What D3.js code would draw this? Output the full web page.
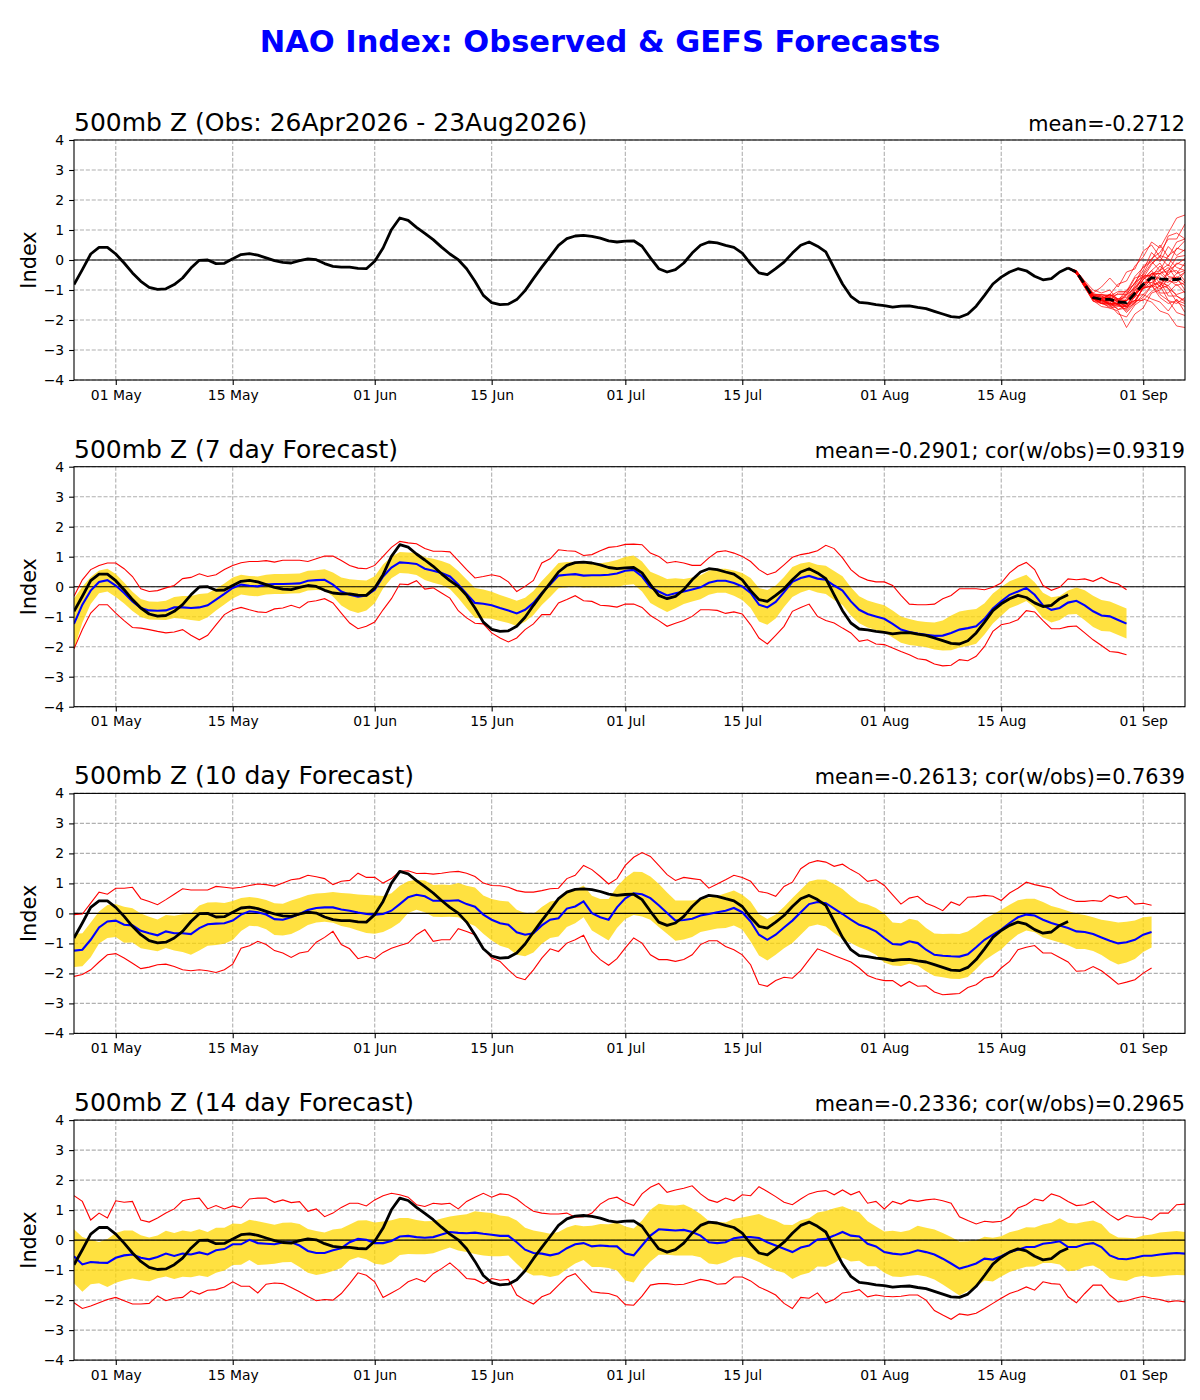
<!DOCTYPE html>
<html>
<head>
<meta charset="utf-8">
<script src="https://cdn.jsdelivr.net/npm/d3@7"></script>
<style>
  body { margin: 0; background: #fff; }
  text { font-family: "DejaVu Sans", sans-serif; }
</style>
</head>
<body>
<div id="chart"></div>
<script>
// ---- data (daily values, first day = seriesStart) ----
const seriesStart = "2026-04-26";
const ensStart = "2026-08-23";
const xDomain = ["2026-04-26", "2026-09-06"];
const xTickDays = ["2026-05-01", "2026-05-15", "2026-06-01", "2026-06-15", "2026-07-01",
                   "2026-07-15", "2026-08-01", "2026-08-15", "2026-09-01"];
const yTicks = [-4, -3, -2, -1, 0, 1, 2, 3, 4];

const mainTitle = "NAO Index: Observed & GEFS Forecasts";
const panelTitles = ["500mb Z (Obs: 26Apr2026 - 23Aug2026)", "500mb Z (7 day Forecast)",
                     "500mb Z (10 day Forecast)", "500mb Z (14 day Forecast)"];
const panelStats = ["mean=-0.2712", "mean=-0.2901; cor(w/obs)=0.9319",
                    "mean=-0.2613; cor(w/obs)=0.7639", "mean=-0.2336; cor(w/obs)=0.2965"];

// observed NAO, 26 Apr - 23 Aug
const obs = [
  -0.82, -0.32, 0.2, 0.42, 0.42, 0.2, -0.1, -0.43, -0.71, -0.91,
  -0.98, -0.96, -0.82, -0.6, -0.27, -0.01, 0.0, -0.12, -0.11, 0.04,
  0.18, 0.21, 0.16, 0.07, -0.02, -0.08, -0.1, -0.02, 0.04, 0.01,
  -0.12, -0.21, -0.24, -0.24, -0.28, -0.29, -0.04, 0.4, 1.01, 1.4,
  1.32, 1.09, 0.89, 0.68, 0.43, 0.2, 0.01, -0.29, -0.71, -1.18,
  -1.42, -1.49, -1.47, -1.32, -1.02, -0.62, -0.24, 0.12, 0.49, 0.71,
  0.8, 0.82, 0.79, 0.73, 0.64, 0.6, 0.63, 0.64, 0.46, 0.07,
  -0.29, -0.4, -0.32, -0.1, 0.23, 0.49, 0.6, 0.57, 0.49, 0.42,
  0.23, -0.13, -0.43, -0.49, -0.29, -0.07, 0.23, 0.49, 0.6, 0.46,
  0.27, -0.27, -0.8, -1.21, -1.41, -1.44, -1.49, -1.52, -1.57, -1.54,
  -1.53, -1.58, -1.62, -1.71, -1.8, -1.89, -1.91, -1.8, -1.54, -1.18,
  -0.8, -0.57, -0.4, -0.29, -0.36, -0.54, -0.66, -0.62, -0.4, -0.27
];

// GEFS ensemble from 23 Aug (mean + members)
const ensMean = [-0.27, -0.4, -0.81, -1.25, -1.31, -1.31, -1.4, -1.42, -1.11, -0.81, -0.59, -0.63, -0.65, -0.65, -0.59];
const ensMembers = [
  [-0.27, -0.45, -0.9, -1.3, -1.35, -1.15, -0.8, -0.7, -0.2, 0.1, 0.6, 0.4, 0.9, 1.4, 1.5],
  [-0.27, -0.4, -0.85, -1.2, -1.3, -1.5, -1.8, -1.9, -1.5, -1.3, -1.4, -1.7, -1.8, -2.2, -2.25],
  [-0.27, -0.35, -0.75, -1.1, -0.9, -0.6, -0.9, -0.4, -0.3, 0.3, 0.5, 0.1, 0.8, 0.9, 0.7],
  [-0.27, -0.42, -0.8, -1.3, -1.45, -1.4, -1.65, -1.6, -1.45, -0.9, -0.9, -0.7, -1.2, -1.2, -1.4],
  [-0.27, -0.38, -0.78, -1.2, -1.2, -1.35, -1.1, -1.1, -0.6, -0.5, -0.1, 0.1, -0.2, 0.4, 0.3],
  [-0.27, -0.44, -0.9, -1.35, -1.55, -1.6, -1.7, -2.25, -1.8, -1.6, -1.1, -1.0, -0.6, -0.6, -0.4],
  [-0.27, -0.36, -0.7, -1.0, -1.1, -1.0, -1.35, -1.0, -0.8, -0.2, 0.0, 0.5, 0.1, 0.6, 0.7],
  [-0.27, -0.43, -0.86, -1.28, -1.45, -1.5, -1.5, -1.65, -1.2, -1.15, -1.3, -1.4, -1.7, -1.3, -1.75],
  [-0.27, -0.39, -0.82, -1.22, -1.3, -1.15, -1.3, -1.25, -1.05, -0.5, -0.55, -0.2, -0.5, -0.1, -0.2],
  [-0.27, -0.41, -0.84, -1.3, -1.4, -1.6, -1.55, -1.55, -1.1, -0.95, -0.6, -1.1, -1.1, -0.8, -1.1],
  [-0.27, -0.37, -0.76, -1.15, -1.25, -1.25, -1.4, -1.15, -0.75, -0.55, -0.5, -0.45, -0.7, -0.75, -0.4],
  [-0.27, -0.46, -0.92, -1.36, -1.4, -1.45, -1.45, -1.7, -1.4, -1.25, -0.85, -0.75, -0.85, -1.2, -1.35],
  [-0.27, -0.4, -0.8, -1.25, -1.35, -1.35, -1.5, -1.3, -0.85, -0.45, 0.05, 0.25, 0.7, 0.7, 1.2],
  [-0.27, -0.42, -0.83, -1.27, -1.35, -1.4, -1.35, -1.6, -1.2, -0.85, -0.55, -0.9, -0.4, -0.35, -0.7],
  [-0.27, -0.38, -0.79, -1.18, -1.25, -1.2, -1.35, -1.35, -1.15, -0.65, -0.35, -0.1, -0.55, -0.6, -1.0],
  [-0.27, -0.44, -0.88, -1.32, -1.3, -1.5, -1.45, -1.35, -0.95, -0.65, -0.35, -0.8, -0.95, -1.4, -1.55],
  [-0.27, -0.4, -0.81, -1.24, -1.3, -1.25, -1.4, -1.45, -1.35, -0.95, -0.85, -0.45, -0.35, 0.1, 0.15],
  [-0.27, -0.43, -0.85, -1.3, -1.35, -1.45, -1.45, -1.5, -1.1, -0.95, -0.85, -1.15, -1.35, -1.75, -1.85],
  [-0.27, -0.39, -0.77, -1.17, -1.15, -1.2, -1.05, -1.05, -0.55, -0.25, -0.05, -0.35, -0.15, -0.45, -0.1],
  [-0.27, -0.41, -0.82, -1.26, -1.35, -1.3, -1.5, -1.55, -1.4, -0.9, -0.65, -0.35, -0.65, -0.85, -0.75],
  [-0.27, -0.45, -0.9, -1.38, -1.45, -1.55, -1.5, -1.5, -1.15, -0.9, -0.45, -0.65, -0.75, -0.45, -0.35],
  [-0.27, -0.36, -0.74, -1.12, -1.2, -1.15, -1.3, -1.15, -0.95, -0.55, -0.85, -0.95, -0.85, -0.55, -0.75],
  [-0.27, -0.42, -0.84, -1.28, -1.3, -1.45, -1.4, -1.55, -1.35, -1.35, -1.05, -0.85, -0.35, -0.15, 0.05],
  [-0.27, -0.4, -0.8, -1.22, -1.3, -1.15, -1.35, -1.2, -0.9, -0.6, -0.15, 0.15, 0.05, -0.25, -0.35],
  [-0.27, -0.43, -0.86, -1.3, -1.45, -1.45, -1.65, -1.5, -1.35, -0.95, -0.75, -0.85, -1.35, -1.45, -1.25],
  [-0.27, -0.38, -0.78, -1.2, -1.2, -1.35, -1.3, -1.35, -1.0, -0.8, -0.45, -0.35, 0.15, 0.35, 0.65],
  [-0.27, -0.41, -0.83, -1.25, -1.35, -1.25, -1.4, -1.35, -1.25, -0.75, -0.75, -0.55, -0.95, -1.15, -1.05],
  [-0.27, -0.44, -0.87, -1.3, -1.35, -1.5, -1.45, -1.75, -1.45, -1.15, -0.85, -1.25, -1.45, -1.35, -1.45],
  [-0.27, -0.37, -0.76, -1.14, -1.15, -1.2, -1.15, -1.15, -0.75, -0.35, 0.25, -0.05, 0.45, 0.15, 0.35],
  [-0.27, -0.42, -0.85, -1.29, -1.4, -1.35, -1.5, -1.35, -1.15, -0.65, -0.45, -0.45, -0.25, -0.65, -0.85]
];

// 7 day forecast: ensemble mean, spread (half width of band), max, min
const p7Mean = [
  -1.24, -0.6, -0.13, 0.16, 0.22, 0.04, -0.21, -0.49, -0.71, -0.79,
  -0.8, -0.79, -0.69, -0.69, -0.71, -0.69, -0.62, -0.43, -0.24, -0.04,
  0.07, 0.03, 0.01, 0.07, 0.09, 0.09, 0.1, 0.11, 0.2, 0.22,
  0.23, 0.07, -0.16, -0.27, -0.33, -0.29, -0.1, 0.34, 0.64, 0.81,
  0.79, 0.76, 0.6, 0.53, 0.46, 0.34, 0.07, -0.24, -0.54, -0.57,
  -0.62, -0.71, -0.79, -0.89, -0.77, -0.54, -0.21, 0.07, 0.37, 0.4,
  0.42, 0.37, 0.38, 0.38, 0.4, 0.44, 0.53, 0.56, 0.34, -0.02,
  -0.16, -0.29, -0.22, -0.16, -0.09, -0.02, 0.13, 0.2, 0.2, 0.12,
  0.01, -0.21, -0.6, -0.69, -0.51, -0.18, 0.16, 0.29, 0.36, 0.27,
  0.23, 0.04, -0.13, -0.49, -0.77, -0.91, -0.99, -1.07, -1.24, -1.43,
  -1.51, -1.56, -1.6, -1.64, -1.63, -1.54, -1.43, -1.38, -1.32, -1.07,
  -0.73, -0.49, -0.27, -0.16, -0.04, -0.27, -0.62, -0.77, -0.71, -0.53,
  -0.47, -0.62, -0.82, -0.96, -0.99, -1.11, -1.23
];
const p7Spread = [
  0.85, 0.6, 0.45, 0.38, 0.38, 0.38, 0.35, 0.32, 0.3, 0.3,
  0.3, 0.32, 0.35, 0.38, 0.4, 0.45, 0.4, 0.36, 0.35, 0.35,
  0.33, 0.33, 0.33, 0.33, 0.33, 0.33, 0.33, 0.33, 0.33, 0.33,
  0.35, 0.4, 0.47, 0.52, 0.55, 0.5, 0.45, 0.4, 0.36, 0.35,
  0.35, 0.37, 0.38, 0.4, 0.4, 0.42, 0.45, 0.48, 0.5, 0.48,
  0.45, 0.43, 0.42, 0.42, 0.4, 0.4, 0.4, 0.41, 0.42, 0.42,
  0.41, 0.4, 0.4, 0.4, 0.42, 0.45, 0.47, 0.48, 0.5, 0.52,
  0.54, 0.55, 0.5, 0.42, 0.4, 0.4, 0.4, 0.4, 0.4, 0.42,
  0.45, 0.5, 0.56, 0.58, 0.55, 0.5, 0.5, 0.48, 0.46, 0.46,
  0.47, 0.48, 0.48, 0.47, 0.45, 0.45, 0.45, 0.45, 0.45, 0.44,
  0.43, 0.42, 0.42, 0.45, 0.5, 0.58, 0.6, 0.6, 0.58, 0.52,
  0.5, 0.48, 0.45, 0.45, 0.44, 0.42, 0.42, 0.42, 0.4, 0.4,
  0.44, 0.5, 0.52, 0.52, 0.5, 0.5, 0.5
];
const p7Max = [
  -0.32, 0.23, 0.57, 0.71, 0.79, 0.79, 0.6, 0.34, -0.07, -0.16,
  -0.13, -0.04, 0.04, 0.27, 0.31, 0.43, 0.34, 0.4, 0.57, 0.71,
  0.8, 0.84, 0.84, 0.87, 0.82, 0.88, 0.88, 0.88, 0.84, 0.93,
  1.02, 1.02, 0.87, 0.71, 0.62, 0.6, 0.71, 1.01, 1.31, 1.51,
  1.46, 1.43, 1.27, 1.18, 1.18, 1.16, 0.87, 0.57, 0.29, 0.34,
  0.4, 0.34, 0.16, -0.16, 0.01, 0.21, 0.79, 0.93, 1.23, 1.2,
  1.18, 1.04, 1.07, 1.2, 1.31, 1.34, 1.41, 1.42, 1.4, 1.12,
  1.01, 0.79, 0.84, 0.79, 0.71, 0.71, 0.96, 1.16, 1.2, 1.12,
  1.01, 0.84, 0.57, 0.4, 0.49, 0.73, 0.98, 1.07, 1.12, 1.2,
  1.38, 1.27, 0.96, 0.57, 0.34, 0.22, 0.16, 0.16, 0.04, -0.29,
  -0.58, -0.6, -0.6, -0.58, -0.4, -0.29, -0.07, -0.07, -0.07, -0.1,
  -0.02, 0.12, 0.46, 0.68, 0.81, 0.57, 0.04, -0.12, -0.02, 0.26,
  0.23, 0.26, 0.18, 0.31, 0.16, 0.09, -0.1
];
const p7Min = [
  -2.07, -1.43, -0.88, -0.6, -0.6, -0.88, -1.13, -1.36, -1.38, -1.43,
  -1.49, -1.54, -1.51, -1.43, -1.62, -1.77, -1.62, -1.27, -0.93, -0.77,
  -0.69, -0.77, -0.84, -0.86, -0.74, -0.71, -0.62, -0.71, -0.51, -0.47,
  -0.4, -0.54, -0.88, -1.21, -1.4, -1.32, -1.18, -0.77, -0.4, 0.09,
  0.07, 0.2, -0.08, -0.04, -0.21, -0.38, -0.8, -1.04, -1.22, -1.24,
  -1.54, -1.71, -1.84, -1.71, -1.43, -1.24, -0.93, -0.93, -0.54, -0.43,
  -0.3, -0.47, -0.49, -0.62, -0.64, -0.68, -0.58, -0.58, -0.69, -0.96,
  -1.13, -1.32, -1.22, -1.13, -0.99, -0.77, -0.77, -0.79, -0.89, -0.84,
  -0.91, -1.27, -1.71, -1.91, -1.62, -1.32, -0.82, -0.69, -0.58, -0.99,
  -1.13, -1.21, -1.38, -1.54, -1.82, -1.77, -1.91, -1.93, -2.04, -2.16,
  -2.27, -2.4, -2.44, -2.58, -2.64, -2.62, -2.43, -2.47, -2.32, -1.99,
  -1.49, -1.27, -1.21, -1.1, -0.8, -0.84, -1.13, -1.4, -1.4, -1.33,
  -1.31, -1.54, -1.77, -1.96, -2.16, -2.19, -2.27
];

// 10 day forecast
const p10Mean = [
  -1.24, -1.21, -0.88, -0.47, -0.27, -0.24, -0.38, -0.4, -0.58, -0.66,
  -0.73, -0.6, -0.66, -0.66, -0.69, -0.49, -0.36, -0.34, -0.33, -0.24,
  -0.04, 0.07, 0.04, -0.04, -0.19, -0.21, -0.13, -0.02, 0.11, 0.18,
  0.2, 0.2, 0.13, 0.09, 0.03, -0.02, -0.04, -0.02, 0.09, 0.31,
  0.54, 0.62, 0.57, 0.42, 0.42, 0.42, 0.44, 0.31, 0.22, -0.04,
  -0.21, -0.33, -0.38, -0.63, -0.71, -0.66, -0.4, -0.21, -0.16, 0.16,
  0.23, 0.4, 0.01, -0.13, -0.21, 0.2, 0.5, 0.67, 0.64, 0.51,
  0.27, 0.01, -0.24, -0.22, -0.18, -0.07, -0.02, 0.04, 0.09, 0.18,
  0.04, -0.27, -0.71, -0.88, -0.71, -0.47, -0.24, 0.04, 0.31, 0.38,
  0.34, 0.16, -0.02, -0.21, -0.38, -0.47, -0.6, -0.82, -1.02, -1.04,
  -0.93, -0.99, -1.21, -1.38, -1.41, -1.43, -1.44, -1.36, -1.13, -0.88,
  -0.71, -0.54, -0.32, -0.13, -0.04, -0.07, -0.21, -0.32, -0.4, -0.49,
  -0.6, -0.62, -0.69, -0.8, -0.91, -1.0, -0.96, -0.88, -0.71, -0.62
];
const p10Spread = [
  0.55, 0.55, 0.58, 0.53, 0.55, 0.55, 0.6, 0.57, 0.58, 0.55,
  0.53, 0.55, 0.58, 0.63, 0.69, 0.75, 0.72, 0.71, 0.68, 0.65,
  0.55, 0.48, 0.47, 0.49, 0.53, 0.53, 0.56, 0.53, 0.5, 0.48,
  0.48, 0.51, 0.55, 0.57, 0.6, 0.63, 0.64, 0.6, 0.58, 0.61,
  0.53, 0.5, 0.53, 0.53, 0.54, 0.53, 0.57, 0.61, 0.64, 0.64,
  0.69, 0.75, 0.78, 0.75, 0.72, 0.64, 0.61, 0.61, 0.61, 0.61,
  0.56, 0.53, 0.58, 0.61, 0.69, 0.69, 0.69, 0.72, 0.74, 0.72,
  0.72, 0.69, 0.67, 0.65, 0.61, 0.55, 0.54, 0.54, 0.58, 0.58,
  0.58, 0.67, 0.69, 0.69, 0.67, 0.69, 0.75, 0.75, 0.75, 0.75,
  0.78, 0.81, 0.83, 0.78, 0.75, 0.77, 0.78, 0.82, 0.72, 0.71,
  0.75, 0.75, 0.72, 0.71, 0.72, 0.75, 0.75, 0.76, 0.72, 0.69,
  0.67, 0.66, 0.61, 0.57, 0.53, 0.56, 0.59, 0.57, 0.57, 0.57,
  0.59, 0.57, 0.56, 0.59, 0.66, 0.7, 0.68, 0.64, 0.58, 0.52
];
const p10Max = [
  -0.04, -0.02, 0.34, 0.71, 0.64, 0.84, 0.84, 0.87, 0.49, 0.4,
  0.29, 0.46, 0.64, 0.82, 0.78, 0.78, 0.78, 0.9, 0.87, 0.84,
  0.87, 0.93, 0.98, 0.96, 0.91, 1.01, 1.12, 1.16, 1.27, 1.22,
  1.16, 0.96, 1.07, 1.1, 1.34, 1.2, 1.2, 1.01, 1.16, 1.4,
  1.42, 1.33, 1.34, 1.31, 1.34, 1.38, 1.4, 1.34, 1.23, 1.01,
  0.93, 0.92, 0.87, 0.76, 0.71, 0.71, 0.76, 0.82, 0.84, 1.16,
  1.27, 1.6, 1.46, 1.23, 0.98, 1.16, 1.6, 1.87, 2.03, 1.9,
  1.6, 1.29, 1.1, 1.2, 1.16, 1.12, 0.84, 0.98, 1.12, 1.27,
  1.2, 1.07, 0.73, 0.68, 0.57, 0.9, 1.04, 1.49, 1.68, 1.76,
  1.71, 1.57, 1.64, 1.46, 1.31, 1.07, 1.12, 0.93, 0.62, 0.31,
  0.51, 0.57, 0.34, 0.23, 0.09, 0.38, 0.27, 0.54, 0.56, 0.6,
  0.57, 0.43, 0.68, 0.84, 1.04, 0.96, 0.9, 0.84, 0.62, 0.49,
  0.4, 0.4, 0.43, 0.4, 0.6, 0.51, 0.57, 0.31, 0.34, 0.27
];
const p10Min = [
  -2.1, -2.04, -1.88, -1.62, -1.38, -1.34, -1.49, -1.66, -1.84, -1.79,
  -1.71, -1.69, -1.77, -1.88, -1.91, -1.88, -1.91, -1.97, -1.88, -1.69,
  -1.16, -1.08, -0.93, -1.04, -1.24, -1.32, -1.47, -1.32, -1.27, -0.96,
  -0.8, -0.6, -1.04, -1.18, -1.51, -1.43, -1.51, -1.3, -1.16, -1.07,
  -0.99, -0.71, -0.54, -0.93, -0.88, -0.88, -0.51, -0.6, -0.71, -1.16,
  -1.49, -1.6, -1.88, -2.13, -2.21, -1.88, -1.49, -1.18, -1.27, -0.99,
  -0.88, -0.73, -1.27, -1.54, -1.73, -1.51, -1.15, -0.82, -0.99, -1.38,
  -1.54, -1.54, -1.6, -1.54, -1.38, -1.04, -0.91, -0.91, -1.1, -1.21,
  -1.38, -1.71, -2.36, -2.43, -2.24, -2.13, -2.16, -1.91, -1.54, -1.18,
  -1.29, -1.4, -1.51, -1.62, -1.82, -2.07, -2.18, -2.24, -2.24, -2.43,
  -2.27, -2.43, -2.41, -2.62, -2.71, -2.69, -2.67, -2.47, -2.38, -2.16,
  -2.1, -1.82, -1.6, -1.21, -1.13, -1.07, -1.32, -1.32, -1.47, -1.62,
  -1.93, -1.91, -1.77, -1.91, -2.13, -2.36, -2.29, -2.21, -1.99, -1.82
];

// 14 day forecast
const p14Mean = [
  -0.54, -0.81, -0.73, -0.75, -0.76, -0.59, -0.51, -0.48, -0.59, -0.64,
  -0.56, -0.45, -0.53, -0.45, -0.48, -0.41, -0.48, -0.34, -0.3, -0.14,
  -0.14, 0.01, -0.1, -0.12, -0.14, -0.08, -0.07, -0.18, -0.36, -0.43,
  -0.43, -0.34, -0.27, -0.07, 0.04, 0.01, -0.1, -0.1, -0.03, 0.12,
  0.14, 0.1, 0.08, 0.1, 0.19, 0.27, 0.24, 0.23, 0.25, 0.21,
  0.18, 0.14, 0.14, -0.07, -0.32, -0.43, -0.45, -0.51, -0.45, -0.27,
  -0.14, -0.1, -0.21, -0.18, -0.2, -0.21, -0.45, -0.51, -0.18, 0.15,
  0.36, 0.34, 0.32, 0.34, 0.27, 0.15, -0.07, -0.1, -0.07, 0.06,
  0.1, 0.1, 0.07, -0.07, -0.18, -0.29, -0.4, -0.25, -0.18, 0.02,
  0.04, 0.15, 0.27, 0.15, 0.12, -0.12, -0.21, -0.4, -0.45, -0.48,
  -0.43, -0.34, -0.4, -0.48, -0.62, -0.78, -0.95, -0.87, -0.78, -0.62,
  -0.65, -0.54, -0.4, -0.32, -0.23, -0.23, -0.12, -0.09, -0.04, -0.23,
  -0.23, -0.14, -0.1, -0.23, -0.51, -0.62, -0.64, -0.59, -0.52, -0.52,
  -0.48, -0.45, -0.43, -0.45
];
const p14Spread = [
  0.9, 0.91, 0.74, 0.69, 0.8, 0.83, 0.83, 0.8, 0.75, 0.73,
  0.71, 0.76, 0.77, 0.77, 0.76, 0.77, 0.75, 0.75, 0.71, 0.69,
  0.68, 0.67, 0.73, 0.69, 0.65, 0.66, 0.66, 0.72, 0.73, 0.73,
  0.68, 0.69, 0.66, 0.59, 0.61, 0.65, 0.69, 0.72, 0.69, 0.62,
  0.6, 0.57, 0.55, 0.54, 0.53, 0.52, 0.59, 0.63, 0.71, 0.72,
  0.72, 0.68, 0.65, 0.72, 0.73, 0.75, 0.72, 0.72, 0.72, 0.69,
  0.64, 0.56, 0.69, 0.72, 0.73, 0.8, 0.9, 0.9, 0.83, 0.86,
  0.85, 0.83, 0.83, 0.85, 0.78, 0.72, 0.71, 0.71, 0.66, 0.65,
  0.65, 0.71, 0.8, 0.81, 0.83, 0.8, 0.9, 0.91, 0.91, 0.9,
  0.93, 0.91, 0.86, 0.86, 0.81, 0.75, 0.66, 0.69, 0.76, 0.75,
  0.76, 0.82, 0.81, 0.83, 0.86, 0.88, 0.9, 0.83, 0.77, 0.73,
  0.73, 0.67, 0.66, 0.65, 0.66, 0.65, 0.64, 0.67, 0.77, 0.81,
  0.78, 0.75, 0.75, 0.77, 0.75, 0.71, 0.72, 0.65, 0.67, 0.71,
  0.73, 0.73, 0.73, 0.72
];
const p14Max = [
  1.48, 1.29, 0.67, 0.9, 0.74, 1.31, 1.26, 1.29, 0.67, 0.6,
  0.74, 0.9, 1.04, 1.31, 1.37, 1.4, 1.04, 1.15, 1.04, 1.14,
  1.07, 1.37, 1.4, 1.4, 1.26, 1.34, 1.25, 1.28, 0.96, 1.04,
  0.78, 0.9, 1.09, 1.23, 1.23, 1.14, 1.34, 1.48, 1.56, 1.51,
  1.43, 1.18, 1.12, 1.23, 1.2, 1.23, 1.04, 1.29, 1.43, 1.56,
  1.43, 1.54, 1.51, 1.37, 1.15, 0.96, 0.9, 0.87, 0.87, 0.9,
  0.76, 0.78, 0.9, 1.2, 1.37, 1.43, 1.26, 1.15, 1.54, 1.76,
  1.89, 1.59, 1.67, 1.73, 1.81, 1.54, 1.34, 1.26, 1.4, 1.31,
  1.51, 1.48, 1.78, 1.62, 1.45, 1.26, 1.18, 1.37, 1.54, 1.62,
  1.65, 1.51, 1.67, 1.51, 1.62, 1.23, 1.29, 1.04, 1.29, 1.2,
  1.34, 1.29, 1.34, 1.37, 1.31, 1.23, 0.78, 0.65, 0.54, 0.63,
  0.6, 0.63, 0.78, 1.07, 1.18, 1.37, 1.31, 1.54, 1.45, 1.29,
  1.15, 1.18, 1.29, 1.07, 0.85, 0.67, 0.82, 0.76, 0.76, 0.67,
  0.9, 0.9, 1.18, 1.2
];
const p14Min = [
  -2.09, -2.28, -2.2, -2.09, -1.98, -1.91, -2.02, -2.13, -2.13, -2.11,
  -1.86, -2.02, -1.94, -1.91, -1.69, -1.8, -1.67, -1.65, -1.56, -1.39,
  -1.54, -1.54, -1.76, -1.47, -1.43, -1.45, -1.58, -1.72, -1.88, -2.02,
  -1.98, -2.0, -1.78, -1.45, -1.09, -1.17, -1.39, -1.91, -1.76, -1.61,
  -1.39, -1.28, -1.39, -1.12, -0.95, -0.76, -1.0, -1.28, -1.31, -1.45,
  -1.28, -1.34, -1.31, -1.83, -2.0, -2.13, -1.89, -1.78, -1.5, -1.23,
  -1.12, -1.43, -1.72, -1.76, -1.78, -1.87, -2.15, -2.17, -1.87, -1.5,
  -1.45, -1.45, -1.49, -1.47, -1.39, -1.31, -1.36, -1.47, -1.45, -1.23,
  -1.23, -1.36, -1.56, -1.69, -1.83, -2.11, -2.28, -1.91, -1.94, -1.76,
  -2.09, -1.98, -1.76, -1.72, -1.65, -1.89, -1.83, -1.87, -1.89, -1.87,
  -1.83, -1.83, -2.0, -2.35, -2.5, -2.64, -2.46, -2.5, -2.44, -2.28,
  -2.11, -1.94, -1.78, -1.69, -1.56, -1.67, -1.39, -1.45, -1.47, -1.89,
  -2.09, -1.78, -1.5, -1.5, -1.83, -2.06, -2.02, -1.94, -1.87, -1.94,
  -1.98, -2.06, -2.02, -2.06
];

// forecast table built from the arrays above
const forecasts = [
  null,
  {mean: p7Mean, spread: p7Spread, max: p7Max, min: p7Min},
  {mean: p10Mean, spread: p10Spread, max: p10Max, min: p10Min},
  {mean: p14Mean, spread: p14Spread, max: p14Max, min: p14Min}
];

// ---- chart ----
const parseDay = d3.utcParse("%Y-%m-%d");
const t0 = parseDay(seriesStart);
const tEns = parseDay(ensStart);
const dayOf = (start, i) => d3.utcDay.offset(start, i);

const svg = d3.select('#chart')
    .append('svg')
    .attr('width', 1200)
    .attr('height', 1400)
    .style('background-color', '#ffffff');

// set the dimensions and margins of each panel
const margin = {top: 140, left: 74, right: 15},
    graphWidth = 1200 - margin.left - margin.right,
    graphHeight = 240,
    panelStep = 326.7;

const x = d3.scaleUtc()
    .domain(xDomain.map(parseDay))
    .range([0, graphWidth]);
const y = d3.scaleLinear()
    .domain([-4, 4])
    .range([graphHeight, 0]);

const xTicks = xTickDays.map(parseDay);
const fmt = d3.utcFormat("%d %b");

// main title
svg.append('text')
    .attr('x', 600)
    .attr('y', 52)
    .attr('text-anchor', 'middle')
    .attr('fill', '#0000ff')
    .style('font-size', '30.5px')
    .style('font-weight', 'bold')
    .text(mainTitle);

svg.append('defs')
    .append('clipPath')
    .attr('id', 'plotclip')
    .append('rect')
    .attr('width', graphWidth)
    .attr('height', graphHeight);

const line = (start) => d3.line()
    .x((d, i) => x(dayOf(start, i)))
    .y(d => y(d));

panelTitles.forEach((title, p) => {
    const graph = svg.append('g')
        .attr('transform', `translate(${margin.left}, ${margin.top + p * panelStep})`);

    // dashed grid
    graph.append('g')
        .selectAll('line')
        .data(xTicks)
        .enter()
        .append('line')
            .attr('x1', d => x(d))
            .attr('x2', d => x(d))
            .attr('y1', 0)
            .attr('y2', graphHeight)
            .attr('stroke', '#b0b0b0')
            .attr('stroke-width', 1.1)
            .style('stroke-dasharray', '4.1,1.8');
    graph.append('g')
        .selectAll('line')
        .data(yTicks)
        .enter()
        .append('line')
            .attr('x1', 0)
            .attr('x2', graphWidth)
            .attr('y1', d => y(d))
            .attr('y2', d => y(d))
            .attr('stroke', '#b0b0b0')
            .attr('stroke-width', 1.1)
            .style('stroke-dasharray', '4.1,1.8');

    const plot = graph.append('g').attr('clip-path', 'url(#plotclip)');
    const fc = forecasts[p];

    if (fc) {
        // spread band
        plot.append('path')
            .datum(fc.mean)
            .attr('fill', '#ffd700')
            .style('opacity', 0.75)
            .attr('d', d3.area()
                .x((d, i) => x(dayOf(t0, i)))
                .y0((d, i) => y(d - fc.spread[i]))
                .y1((d, i) => y(d + fc.spread[i])));
    }

    // zero line (sits on top of the band)
    plot.append('line')
        .attr('x1', 0)
        .attr('x2', graphWidth)
        .attr('y1', y(0))
        .attr('y2', y(0))
        .attr('stroke', '#000')
        .attr('stroke-width', 1.1);

    if (fc) {
        // min / max members
        [fc.max, fc.min].forEach(s => {
            plot.append('path')
                .datum(s)
                .attr('fill', 'none')
                .attr('stroke', '#ff0000')
                .attr('stroke-width', 1.1)
                .attr('d', line(t0));
        });
        // ensemble mean
        plot.append('path')
            .datum(fc.mean)
            .attr('fill', 'none')
            .attr('stroke', '#0000ff')
            .attr('stroke-width', 2.1)
            .attr('d', line(t0));
    }

    // observed
    plot.append('path')
        .datum(obs)
        .attr('fill', 'none')
        .attr('stroke', '#000')
        .attr('stroke-width', 2.8)
        .attr('stroke-linejoin', 'round')
        .attr('d', line(t0));

    if (!fc) {
        // GEFS members and their mean after the last observation
        plot.append('g')
            .selectAll('path')
            .data(ensMembers)
            .enter()
            .append('path')
                .attr('fill', 'none')
                .attr('stroke', '#ff0000')
                .attr('stroke-width', 1)
                .style('opacity', 0.7)
                .attr('d', line(tEns));
        plot.append('path')
            .datum(ensMean)
            .attr('fill', 'none')
            .attr('stroke', '#000')
            .attr('stroke-width', 2.8)
            .style('stroke-dasharray', '9,4')
            .attr('d', line(tEns));
    }

    // frame
    graph.append('rect')
        .attr('width', graphWidth)
        .attr('height', graphHeight)
        .attr('fill', 'none')
        .attr('stroke', '#000')
        .attr('stroke-width', 1.1);

    // axes
    const xAxis = graph.append('g')
        .attr('transform', `translate(0, ${graphHeight})`)
        .call(d3.axisBottom(x).tickValues(xTicks).tickFormat(fmt).tickSize(4.9).tickPadding(4.9));
    const yAxis = graph.append('g')
        .call(d3.axisLeft(y).tickValues(yTicks).tickFormat(d3.format('d')).tickSize(4.9).tickPadding(4.9));
    [xAxis, yAxis].forEach(a => {
        a.select('.domain').remove();
        a.selectAll('line').attr('stroke', '#000').attr('stroke-width', 1.1);
        a.selectAll('text')
            .style('font-size', '13.9px')
            .style('font-family', '"DejaVu Sans", sans-serif')
            .attr('fill', '#000');
    });

    // titles
    graph.append('text')
        .attr('x', 0)
        .attr('y', -9)
        .style('font-size', '25px')
        .text(title);
    graph.append('text')
        .attr('x', graphWidth)
        .attr('y', -9)
        .attr('text-anchor', 'end')
        .style('font-size', '20.8px')
        .text(panelStats[p]);
    graph.append('text')
        .attr('transform', `translate(-38, ${graphHeight / 2}) rotate(-90)`)
        .attr('text-anchor', 'middle')
        .style('font-size', '20.8px')
        .text('Index');
});
</script>
</body>
</html>
